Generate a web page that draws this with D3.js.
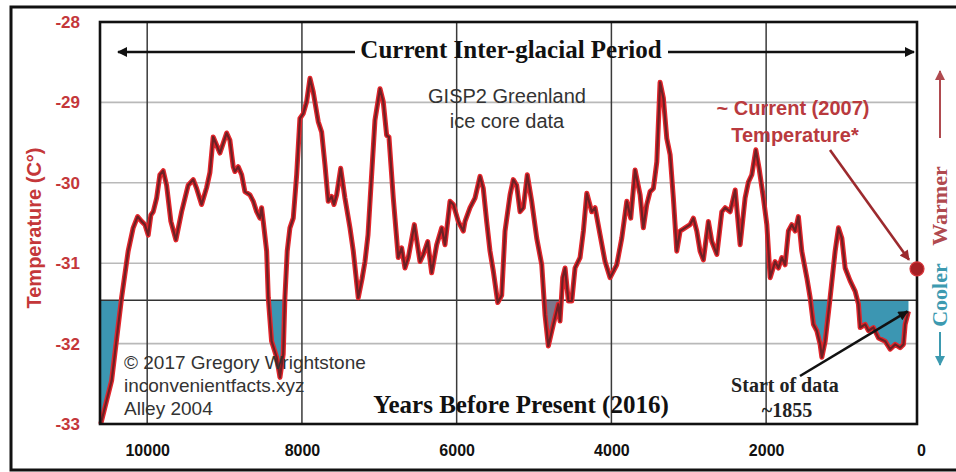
<!DOCTYPE html>
<html><head><meta charset="utf-8">
<script src="https://cdn.jsdelivr.net/npm/d3@7"></script>
<style>body{margin:0;background:#fff;} svg{display:block;}</style>
</head><body>
<svg id="chart" width="956" height="472"></svg>
<script>
// ---- data ----
const years = [10600,10460,10331,10246,10181,10124,10072,10030,9987,9952,9922,9878,9836,9793,9749,9694,9629,9555,9470,9405,9361,9297,9232,9189,9147,9060,8973,8931,8888,8866,8823,8779,8737,8672,8629,8585,8543,8521,8500,8456,8435,8392,8327,8284,8242,8220,8190,8155,8112,8068,8026,7983,7939,7896,7854,7789,7745,7702,7660,7616,7586,7551,7499,7444,7379,7336,7272,7224,7185,7146,7099,7056,6991,6949,6905,6875,6819,6755,6711,6668,6625,6547,6474,6431,6374,6323,6258,6193,6151,6086,6043,5979,5914,5892,5827,5763,5698,5656,5612,5569,5526,5469,5418,5375,5310,5268,5224,5181,5138,5087,5030,4965,4900,4858,4815,4750,4686,4664,4629,4599,4556,4512,4470,4405,4362,4318,4254,4211,4146,4082,4017,3931,3866,3801,3750,3694,3629,3587,3543,3500,3457,3413,3371,3328,3284,3241,3199,3155,3112,3048,2983,2940,2896,2854,2811,2746,2702,2637,2573,2530,2465,2400,2336,2272,2229,2185,2133,2091,2035,1991,1948,1884,1841,1797,1755,1712,1668,1625,1583,1539,1474,1431,1389,1345,1302,1280,1237,1173,1108,1065,1021,979,914,849,807,785,720,678,613,548,462,397,332,268,225,203,160];
const temps = [-33.00,-32.46,-31.43,-30.85,-30.56,-30.42,-30.48,-30.52,-30.65,-30.40,-30.36,-30.19,-29.90,-29.85,-30.03,-30.48,-30.71,-30.36,-30.03,-29.96,-30.07,-30.27,-30.06,-29.87,-29.43,-29.63,-29.38,-29.47,-29.80,-29.86,-29.80,-29.90,-30.11,-30.15,-30.23,-30.36,-30.44,-30.31,-30.48,-30.85,-31.43,-31.97,-32.17,-32.42,-32.13,-31.43,-30.85,-30.56,-30.44,-29.90,-29.20,-29.14,-28.99,-28.70,-28.87,-29.24,-29.37,-29.78,-30.23,-30.17,-30.27,-30.15,-29.82,-30.19,-30.56,-30.85,-31.43,-31.20,-30.98,-30.65,-29.90,-29.22,-28.83,-28.99,-29.41,-29.43,-30.19,-30.93,-30.81,-31.06,-30.93,-30.52,-30.98,-30.89,-30.73,-31.12,-30.77,-30.56,-30.77,-30.23,-30.27,-30.48,-30.60,-30.48,-30.31,-30.19,-29.92,-30.07,-30.48,-30.85,-31.10,-31.49,-31.40,-30.60,-30.15,-29.96,-30.03,-30.36,-30.31,-29.90,-30.23,-30.69,-31.02,-31.64,-32.03,-31.76,-31.51,-31.72,-31.18,-31.06,-31.47,-31.47,-31.06,-30.93,-30.60,-30.13,-30.36,-30.31,-30.65,-30.98,-31.18,-31.02,-30.69,-30.23,-30.44,-29.84,-30.15,-30.56,-30.27,-30.11,-30.07,-29.74,-28.75,-28.95,-29.45,-29.65,-30.19,-30.85,-30.60,-30.56,-30.52,-30.44,-30.60,-30.85,-30.96,-30.48,-30.73,-30.89,-30.36,-30.31,-30.36,-30.09,-30.77,-30.19,-29.99,-29.90,-29.59,-29.82,-30.19,-30.52,-31.18,-30.98,-31.06,-30.93,-31.02,-30.60,-30.52,-30.60,-30.42,-30.85,-31.18,-31.43,-31.76,-31.84,-32.01,-32.17,-31.97,-31.43,-30.85,-30.56,-30.69,-31.06,-31.22,-31.35,-31.51,-31.80,-31.76,-31.84,-31.80,-31.93,-31.97,-32.07,-32.01,-32.05,-32.01,-31.76,-31.60];
const yTicks = [-28,-29,-30,-31,-32,-33];
const xTicks = [10000,8000,6000,4000,2000,0];
const gridTemps = [-29,-30,-31,-32];
const threshold = -31.46;
const grayDip = [4890, 4540];
const currentYear = 50, currentTemp = -31.07;
const startYear = 160, startTemp = -31.60;
const xLeft = 10610, xRight = 50, yMin = -33, yMax = -28;

// ---- setup ----
const svg = d3.select("#chart");
const x = d3.scaleLinear().domain([xLeft, xRight]).range([100, 917]);
const y = d3.scaleLinear().domain([yMin, yMax]).range([424, 22]);
const data = d3.zip(years, temps).map(([yr, t]) => ({yr, t}));
const SANS = "'Liberation Sans', Arial, sans-serif";
const SERIF = "'Liberation Serif', 'Times New Roman', serif";

svg.append("rect").attr("width", 956).attr("height", 472).attr("fill", "#fff");

const defs = svg.append("defs");
function marker(id, color) {
  defs.append("marker").attr("id", id).attr("viewBox", "0 0 10 10")
    .attr("refX", 9).attr("refY", 5).attr("markerUnits", "userSpaceOnUse")
    .attr("markerWidth", 12).attr("markerHeight", 10).attr("orient", "auto")
    .append("path").attr("d", "M0,0 L10,5 L0,10 z").attr("fill", color);
}
marker("arrBlack", "#111");
marker("arrRed", "#9c2a2e");
marker("arrWarm", "#b04a4f");
marker("arrCool", "#3d9ab0");

// outer frame
svg.append("rect").attr("x", 11).attr("y", 7).attr("width", 990).attr("height", 463)
  .attr("fill", "none").attr("stroke", "#111").attr("stroke-width", 3);

const X0 = x(xLeft), X1 = x(xRight), Y0 = y(yMax), Y1 = y(yMin);

// horizontal grid
svg.append("g").selectAll("line").data(gridTemps).join("line")
  .attr("x1", X0).attr("x2", X1).attr("y1", d => y(d)).attr("y2", d => y(d))
  .attr("stroke", "#b9b9b9").attr("stroke-width", 1.6);

// fills below threshold
defs.append("clipPath").attr("id", "below").append("rect")
  .attr("x", X0).attr("y", y(threshold)).attr("width", X1 - X0).attr("height", Y1 - y(threshold));
defs.append("clipPath").attr("id", "belowGray").append("rect")
  .attr("x", x(grayDip[0])).attr("y", y(threshold)).attr("width", x(grayDip[1]) - x(grayDip[0])).attr("height", Y1 - y(threshold));
const area = d3.area().x(d => x(d.yr)).y0(y(threshold)).y1(d => y(d.t));
svg.append("path").datum(data).attr("d", area).attr("fill", "#3c96b2").attr("clip-path", "url(#below)");
svg.append("path").datum(data).attr("d", area).attr("fill", "#7d788c").attr("clip-path", "url(#belowGray)");

// threshold line
svg.append("line").attr("x1", X0).attr("x2", X1).attr("y1", y(threshold)).attr("y2", y(threshold))
  .attr("stroke", "#333").attr("stroke-width", 1.6);

// vertical grid
svg.append("g").selectAll("line").data(xTicks.filter(d => d > xRight)).join("line")
  .attr("x1", d => x(d)).attr("x2", d => x(d)).attr("y1", Y0).attr("y2", Y1)
  .attr("stroke", "#3a3a3a").attr("stroke-width", 1.5);

// curve
const line = d3.line().x(d => x(d.yr)).y(d => y(d.t));
svg.append("path").datum(data).attr("d", line).attr("fill", "none")
  .attr("stroke", "#e3262c").attr("stroke-width", 5).attr("stroke-linejoin", "round");
svg.append("path").datum(data).attr("d", line).attr("fill", "none")
  .attr("stroke", "#6e2024").attr("stroke-width", 2.2).attr("stroke-linejoin", "round");

// plot frame
svg.append("rect").attr("x", X0).attr("y", Y0).attr("width", X1 - X0).attr("height", Y1 - Y0)
  .attr("fill", "none").attr("stroke", "#111").attr("stroke-width", 2.6);

// axes
const yAxis = svg.append("g").attr("transform", `translate(${X0},0)`)
  .call(d3.axisLeft(y).tickValues(yTicks).tickSize(0).tickPadding(20).tickFormat(d => String(d)));
yAxis.select(".domain").remove();
yAxis.selectAll("text").attr("font-family", SANS).attr("font-size", 17).attr("font-weight", "bold").attr("fill", "#c4373a");

const xAxis = svg.append("g").attr("transform", `translate(0,${Y1})`)
  .call(d3.axisBottom(x).tickValues(xTicks).tickSize(0).tickPadding(21).tickFormat(d => String(d)));
xAxis.select(".domain").remove();
xAxis.selectAll("text").attr("font-family", SANS).attr("font-size", 16).attr("font-weight", "bold").attr("fill", "#111");

// y title
svg.append("text").attr("transform", "translate(41,228) rotate(-90)").attr("text-anchor", "middle")
  .attr("font-family", SANS).attr("font-size", 20).attr("font-weight", "bold").attr("fill", "#c4373a")
  .text("Temperature (C°)");

// top arrow and title
svg.append("line").attr("x1", 355).attr("x2", 118).attr("y1", 52).attr("y2", 52)
  .attr("stroke", "#111").attr("stroke-width", 2.6).attr("marker-end", "url(#arrBlack)");
svg.append("line").attr("x1", 668).attr("x2", 914).attr("y1", 52).attr("y2", 52)
  .attr("stroke", "#111").attr("stroke-width", 2.6).attr("marker-end", "url(#arrBlack)");
svg.append("text").attr("x", 511).attr("y", 58).attr("text-anchor", "middle")
  .attr("font-family", SERIF).attr("font-size", 25).attr("font-weight", "bold").attr("fill", "#111")
  .text("Current Inter-glacial Period");

// GISP2 label
const g2 = svg.append("text").attr("text-anchor", "middle").attr("font-family", SANS).attr("font-size", 20).attr("fill", "#333");
g2.append("tspan").attr("x", 507).attr("y", 103).text("GISP2 Greenland");
g2.append("tspan").attr("x", 507).attr("y", 128).text("ice core data");

// copyright
const cp = svg.append("text").attr("font-family", SANS).attr("font-size", 19).attr("fill", "#333");
["© 2017 Gregory Wrightstone", "inconvenientfacts.xyz", "Alley 2004"].forEach((t, i) =>
  cp.append("tspan").attr("x", 124).attr("y", 369 + i * 23).text(t));

// x title
svg.append("text").attr("x", 521).attr("y", 413).attr("text-anchor", "middle")
  .attr("font-family", SERIF).attr("font-size", 25).attr("font-weight", "bold").attr("fill", "#111")
  .text("Years Before Present (2016)");

// current temperature annotation
const ct = svg.append("text").attr("text-anchor", "middle").attr("font-family", SANS).attr("font-size", 20)
  .attr("font-weight", "bold").attr("fill", "#b93a3e");
ct.append("tspan").attr("x", 793).attr("y", 115).text("~ Current (2007)");
ct.append("tspan").attr("x", 795).attr("y", 142).text("Temperature*");
svg.append("line").attr("x1", 830).attr("y1", 150).attr("x2", x(currentYear) - 8).attr("y2", y(currentTemp) - 9)
  .attr("stroke", "#9c2a2e").attr("stroke-width", 2.6).attr("marker-end", "url(#arrRed)");
svg.append("circle").attr("cx", x(currentYear)).attr("cy", y(currentTemp)).attr("r", 7)
  .attr("fill", "#a51f24").attr("stroke", "#d8353a").attr("stroke-width", 1.2);

// start of data annotation
svg.append("line").attr("x1", 800).attr("y1", 376).attr("x2", x(startYear) - 1).attr("y2", y(startTemp))
  .attr("stroke", "#111").attr("stroke-width", 2.6).attr("marker-end", "url(#arrBlack)");
const sd = svg.append("text").attr("text-anchor", "middle").attr("font-family", SERIF).attr("font-size", 20)
  .attr("font-weight", "bold").attr("fill", "#222");
sd.append("tspan").attr("x", 785).attr("y", 392).text("Start of data");
sd.append("tspan").attr("x", 787).attr("y", 417).text("~1855");

// warmer / cooler
svg.append("line").attr("x1", 940).attr("x2", 940).attr("y1", 138).attr("y2", 71)
  .attr("stroke", "#b04a4f").attr("stroke-width", 2).attr("marker-end", "url(#arrWarm)");
svg.append("text").attr("transform", "translate(947,206) rotate(-90)").attr("text-anchor", "middle")
  .attr("font-family", SERIF).attr("font-size", 22).attr("font-weight", "bold").attr("fill", "#b04a4f").text("Warmer");
svg.append("text").attr("transform", "translate(947,295) rotate(-90)").attr("text-anchor", "middle")
  .attr("font-family", SERIF).attr("font-size", 22).attr("font-weight", "bold").attr("fill", "#3d9ab0").text("Cooler");
svg.append("line").attr("x1", 940).attr("x2", 940).attr("y1", 332).attr("y2", 365)
  .attr("stroke", "#3d9ab0").attr("stroke-width", 2).attr("marker-end", "url(#arrCool)");
</script>
</body></html>
